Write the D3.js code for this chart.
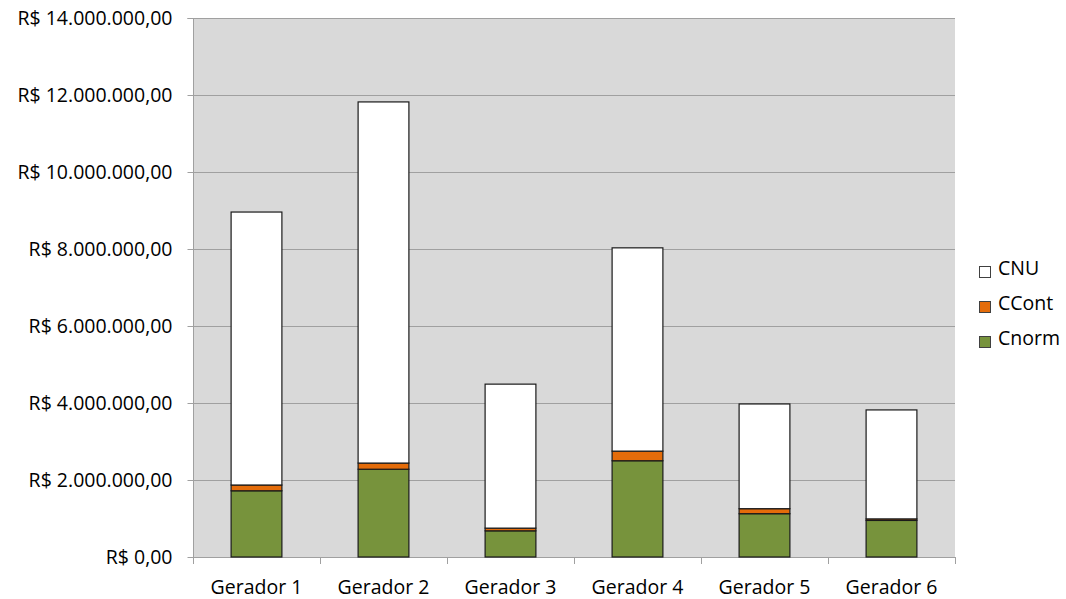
<!DOCTYPE html>
<html>
<head>
<meta charset="utf-8">
<script src="https://cdn.jsdelivr.net/npm/d3@7"></script>
<style>
  body { margin: 0; background: #fff; }
  text { font-family: "Open Sans", "Noto Sans", sans-serif; fill: #000; }
</style>
</head>
<body>
<svg id="chart" width="1066" height="599"></svg>
<script>
// Custos por gerador (R$)
const categories = ["Gerador 1", "Gerador 2", "Gerador 3", "Gerador 4", "Gerador 5", "Gerador 6"];
const cnorm = [1720000, 2280000, 680000, 2500000, 1125000, 950000];
const ccont = [150000, 160000, 70000, 250000, 130000, 40000];
const cnu   = [7090000, 9380000, 3740000, 5280000, 2720000, 2830000];
const seriesNames = ["Cnorm", "CCont", "CNU"];
const seriesColors = ["#77933c", "#e46c0a", "#ffffff"];
const yTicks = [0, 2000000, 4000000, 6000000, 8000000, 10000000, 12000000, 14000000];

const rows = categories.map((c, i) => ({ cat: c, Cnorm: cnorm[i], CCont: ccont[i], CNU: cnu[i] }));
const stacked = d3.stack().keys(seriesNames)(rows);

const svg = d3.select("#chart");
const m = { left: 193, right: 955, top: 18, bottom: 557 };
const FS = 19.5;

const x = d3.scaleBand().domain(categories).range([m.left, m.right]).paddingInner(0.6).paddingOuter(0.3);
const xCat = d3.scaleBand().domain(categories).range([m.left, m.right]);
const y = d3.scaleLinear().domain([0, 14000000]).range([m.bottom, m.top]);

const locale = d3.formatLocale({ decimal: ",", thousands: ".", grouping: [3], currency: ["R$ ", ""] });
const fmt = v => "R$ " + locale.format(",.2f")(v);

// plot background
svg.append("rect")
  .attr("x", m.left).attr("y", m.top)
  .attr("width", m.right - m.left).attr("height", m.bottom - m.top)
  .attr("fill", "#d9d9d9");

// horizontal gridlines
svg.append("g").selectAll("line").data(yTicks.slice(1)).join("line")
  .attr("x1", m.left).attr("x2", m.right)
  .attr("y1", d => Math.round(y(d)) + 0.5).attr("y2", d => Math.round(y(d)) + 0.5)
  .attr("stroke", "#a0a0a0").attr("stroke-width", 1);

// y axis
const yAxis = svg.append("g")
  .attr("transform", `translate(${m.left + 0.5},0.5)`)
  .call(d3.axisLeft(y).tickValues(yTicks).tickFormat(fmt).tickSize(6).tickPadding(15));
yAxis.select(".domain").attr("stroke", "#a0a0a0").attr("d", `M-6,${Math.round(m.top)}H0V${m.bottom}`);
yAxis.selectAll(".tick line").attr("stroke", "#a0a0a0");
yAxis.selectAll(".tick text").attr("font-size", FS).attr("fill", "#000");
yAxis.selectAll(".tick").attr("transform", d => `translate(0,${Math.round(y(d))})`);

// x axis baseline and category boundary ticks
svg.append("line")
  .attr("x1", m.left).attr("x2", m.right)
  .attr("y1", m.bottom + 0.5).attr("y2", m.bottom + 0.5)
  .attr("stroke", "#a0a0a0");
const bounds = categories.map(c => xCat(c)).concat([m.right]);
svg.append("g").selectAll("line").data(bounds).join("line")
  .attr("x1", d => Math.round(d) + 0.5).attr("x2", d => Math.round(d) + 0.5)
  .attr("y1", m.bottom).attr("y2", m.bottom + 7)
  .attr("stroke", "#a0a0a0");
svg.append("g").selectAll("text").data(categories).join("text")
  .attr("x", d => xCat(d) + xCat.bandwidth() / 2)
  .attr("y", 594)
  .attr("text-anchor", "middle")
  .attr("font-size", FS)
  .text(d => d);

// stacked bars
svg.append("g").selectAll("g").data(stacked).join("g")
  .attr("fill", (d, i) => seriesColors[i])
  .selectAll("rect").data(d => d).join("rect")
  .attr("x", d => x(d.data.cat))
  .attr("y", d => y(d[1]))
  .attr("width", x.bandwidth())
  .attr("height", d => y(d[0]) - y(d[1]))
  .attr("stroke", "#1a1a1a").attr("stroke-width", 1.2);

// legend
const legendOrder = ["CNU", "CCont", "Cnorm"];
const lg = svg.append("g").selectAll("g").data(legendOrder).join("g")
  .attr("transform", (d, i) => `translate(979,${263 + i * 35})`);
lg.append("rect")
  .attr("x", 0.5).attr("y", 3.5).attr("width", 11).attr("height", 11)
  .attr("fill", d => seriesColors[seriesNames.indexOf(d)])
  .attr("stroke", "#404040").attr("stroke-width", 1);
lg.append("text")
  .attr("x", 19).attr("y", 12)
  .attr("font-size", FS)
  .text(d => d);
</script>
</body>
</html>
